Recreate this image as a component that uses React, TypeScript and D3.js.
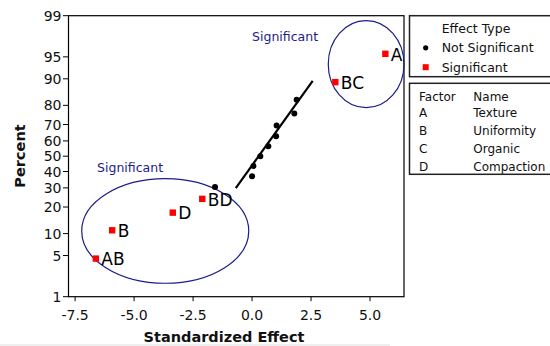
import React from 'react';
import * as d3 from 'd3';

// ---- data ----
const sigTerms = ['AB', 'B', 'D', 'BD', 'BC', 'A'];
const sigEffects = [-6.62, -5.93, -3.36, -2.11, 3.53, 5.65];
const sigPercents = [4.5, 11.0, 17.5, 24.0, 89.0, 95.5];

const nsEffects = [-1.57, 0.0, 0.06, 0.35, 0.69, 1.02, 1.04, 1.79, 1.89];
const nsPercents = [30.5, 37.0, 43.5, 50.0, 56.5, 63.0, 69.5, 76.0, 82.5];

const fitEffects = [-0.69, 2.57];
const fitPercents = [29.9, 89.4];

const xTicks = [-7.5, -5.0, -2.5, 0.0, 2.5, 5.0];
const yTicks = [1, 5, 10, 20, 30, 40, 50, 60, 70, 80, 90, 95, 99];

const factorCodes = ['A', 'B', 'C', 'D'];
const factorNames = ['Texture', 'Uniformity', 'Organic', 'Compaction'];

// ellipse annotations: [effectMin, effectMax], [percentMin, percentMax]
const ellipseEffects = [[-7.22, -0.14], [3.23, 6.44]];
const ellipsePercents = [[1.77, 35.5], [78.9, 98.76]];
const ellipseLabelEffects = [-5.17, 1.4];
const ellipseLabelPercents = [39.4, 97.2];

// inverse standard normal CDF (Acklam)
function probit(p: number): number {
  const a = [-3.969683028665376e1, 2.209460984245205e2, -2.759285104469687e2, 1.38357751867269e2, -3.066479806614716e1, 2.506628277459239];
  const b = [-5.447609879822406e1, 1.615858368580409e2, -1.556989798598866e2, 6.680131188771972e1, -1.328068155288572e1];
  const c = [-7.784894002430293e-3, -3.223964580411365e-1, -2.400758277161838, -2.549732539343734, 4.374664141464968, 2.938163982698783];
  const d = [7.784695709041462e-3, 3.224671290700398e-1, 2.445134137142996, 3.754408661907416];
  const pl = 0.02425;
  if (p < pl) {
    const q = Math.sqrt(-2 * Math.log(p));
    return (((((c[0] * q + c[1]) * q + c[2]) * q + c[3]) * q + c[4]) * q + c[5]) / ((((d[0] * q + d[1]) * q + d[2]) * q + d[3]) * q + 1);
  }
  if (p > 1 - pl) {
    const q = Math.sqrt(-2 * Math.log(1 - p));
    return -(((((c[0] * q + c[1]) * q + c[2]) * q + c[3]) * q + c[4]) * q + c[5]) / ((((d[0] * q + d[1]) * q + d[2]) * q + d[3]) * q + 1);
  }
  const q = p - 0.5;
  const r = q * q;
  return (((((a[0] * r + a[1]) * r + a[2]) * r + a[3]) * r + a[4]) * r + a[5]) * q / (((((b[0] * r + b[1]) * r + b[2]) * r + b[3]) * r + b[4]) * r + 1);
}

const FONT = 'DejaVu Sans, Verdana, sans-serif';
const NAVY = '#1c1c8a';

export default function App() {
  const left = 68.5, right = 404, top = 15.7, bottom = 296.7;
  const x = d3.scaleLinear().domain([-7.78, 6.44]).range([left, right]);
  const zScale = d3.scaleLinear().domain([probit(0.01), probit(0.99)]).range([bottom, top]);
  const y = (pct: number) => zScale(probit(pct / 100));

  const fitLine = d3.line<number>()
    .x((_, i) => x(fitEffects[i]))
    .y((_, i) => y(fitPercents[i]));

  return (
    <svg width={550} height={346} style={{ position: 'absolute', left: 0, top: 0, background: '#fff' }} fontFamily={FONT}>
      <rect x={0} y={0} width={550} height={346} fill="#fff" />
      <rect x={0} y={344} width={390} height={2} fill="#efefef" />

      {/* frame */}
      <rect x={left} y={top} width={right - left} height={bottom - top} fill="none" stroke="#000" strokeWidth={1.2} />

      {/* y axis */}
      {yTicks.map((t) => (
        <g key={'y' + t}>
          <line x1={left - 5.5} x2={left} y1={y(t)} y2={y(t)} stroke="#000" strokeWidth={1} />
          <text x={left - 7} y={y(t)} dy="0.36em" textAnchor="end" fontSize={14} fill="#111">{t}</text>
        </g>
      ))}
      {/* x axis */}
      {xTicks.map((t) => (
        <g key={'x' + t}>
          <line x1={x(t)} x2={x(t)} y1={bottom} y2={bottom + 4.5} stroke="#000" strokeWidth={1} />
          <text x={x(t)} y={320} textAnchor="middle" fontSize={14} fill="#111">{t.toFixed(1)}</text>
        </g>
      ))}

      <text x={224} y={342} textAnchor="middle" fontSize={14.5} fontWeight="bold" fill="#111">Standardized Effect</text>
      <text transform={`translate(25,156) rotate(-90)`} textAnchor="middle" fontSize={14.5} fontWeight="bold" fill="#111">Percent</text>

      {/* ellipses */}
      {ellipseEffects.map((e, i) => {
        const x0 = x(e[0]), x1 = x(e[1]);
        const y0 = y(ellipsePercents[i][1]), y1 = y(ellipsePercents[i][0]);
        return (
          <ellipse key={'el' + i} cx={(x0 + x1) / 2} cy={(y0 + y1) / 2} rx={(x1 - x0) / 2} ry={(y1 - y0) / 2}
            fill="none" stroke={NAVY} strokeWidth={1.2} />
        );
      })}
      {ellipseLabelEffects.map((e, i) => (
        <text key={'elt' + i} x={x(e)} y={y(ellipseLabelPercents[i])} textAnchor="middle" fontSize={12.5} fill={NAVY}>Significant</text>
      ))}

      {/* fit line */}
      <path d={fitLine(fitEffects) || ''} fill="none" stroke="#000" strokeWidth={2.2} />

      {/* not significant points */}
      {nsEffects.map((e, i) => (
        <circle key={'ns' + i} cx={x(e)} cy={y(nsPercents[i])} r={3} fill="#000" />
      ))}

      {/* significant points */}
      {sigEffects.map((e, i) => (
        <g key={'s' + i}>
          <rect x={x(e) - 3.2} y={y(sigPercents[i]) - 3.2} width={6.4} height={6.4} fill="#ff0000" />
          <text x={x(e) + 5.5} y={y(sigPercents[i]) + 6.8} fontSize={17} fill="#000">{sigTerms[i]}</text>
        </g>
      ))}

      {/* legend: effect type */}
      <rect x={409.5} y={15.7} width={145} height={61} fill="#fff" stroke="#222" strokeWidth={1.5} />
      <text x={441.7} y={33.3} fontSize={12.5} fill="#111">Effect Type</text>
      <circle cx={425.7} cy={47.8} r={2.6} fill="#000" />
      <text x={441.7} y={52.3} fontSize={12.5} fill="#111">Not Significant</text>
      <rect x={422.7} y={64.2} width={6} height={6} fill="#ff0000" />
      <text x={441.7} y={71.6} fontSize={12.5} fill="#111">Significant</text>

      {/* legend: factors */}
      <rect x={409.5} y={83.3} width={145} height={91} fill="#fff" stroke="#222" strokeWidth={1.5} />
      <text x={419} y={100.5} fontSize={12} fill="#111">Factor</text>
      <text x={473.3} y={100.5} fontSize={12} fill="#111">Name</text>
      {factorCodes.map((c, i) => (
        <g key={'f' + c}>
          <text x={419} y={116.5 + i * 18} fontSize={12} fill="#111">{c}</text>
          <text x={473.3} y={116.5 + i * 18} fontSize={12} fill="#111">{factorNames[i]}</text>
        </g>
      ))}
    </svg>
  );
}
